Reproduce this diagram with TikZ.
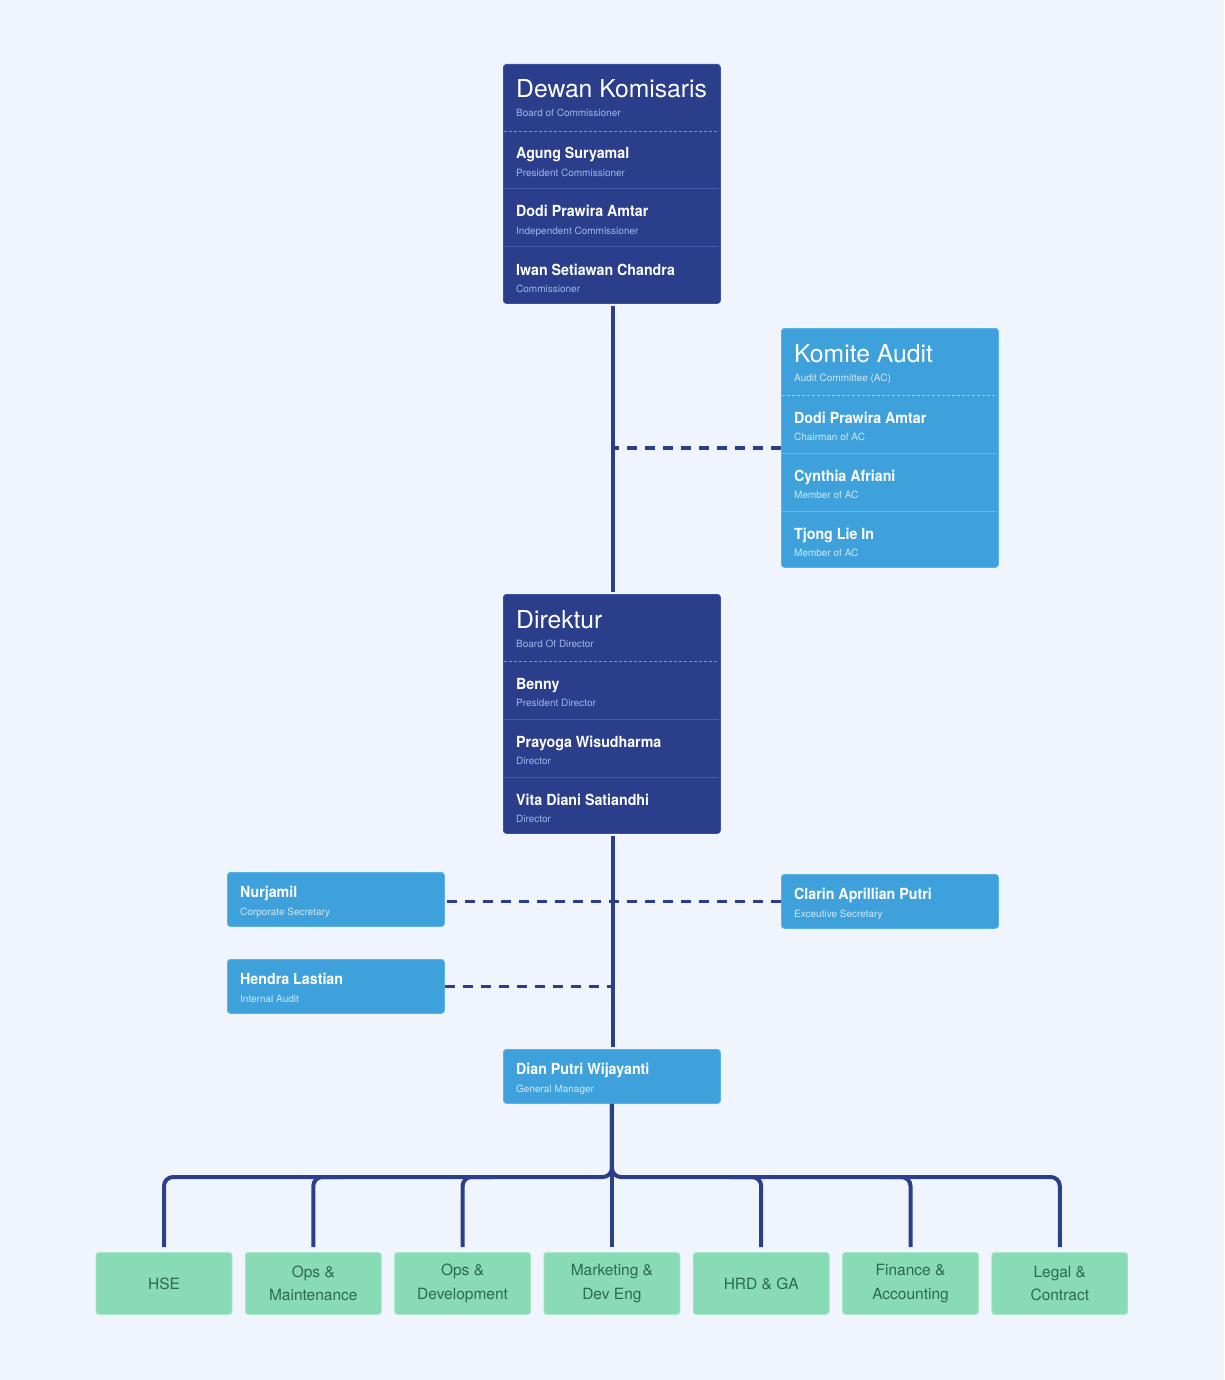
\documentclass[tikz,border=0pt]{standalone}
\usepackage{fontspec}
\setmainfont{TeX Gyre Heros}
\newfontfamily\namefont{TeX Gyre Heros}[FakeStretch=0.93]
\usetikzlibrary{calc}

\definecolor{bg}{HTML}{F0F5FD}
\definecolor{navy}{HTML}{2B3E8B}
\definecolor{navyedge}{HTML}{3A50A0}
\definecolor{sky}{HTML}{3EA1DB}
\definecolor{skyedge}{HTML}{5DB2E5}
\definecolor{mint}{HTML}{89DBB6}
\definecolor{mintedge}{HTML}{ABE8CB}
\definecolor{minttext}{HTML}{2B6A4E}
\definecolor{divdark}{HTML}{4659AA}
\definecolor{hdrdark}{HTML}{7E91D3}
\definecolor{divsky}{HTML}{65B7E6}
\definecolor{hdrsky}{HTML}{97CEEF}
\definecolor{roledark}{HTML}{A3B5EA}
\definecolor{rolesky}{HTML}{CFE7F8}
\colorlet{rolec}{roledark}

\tikzset{
  darkbox/.style={draw=navyedge, line width=0.8pt, fill=navy, rounded corners=3pt, minimum width=217pt, anchor=north west, inner sep=0pt},
  skybox/.style={draw=skyedge, line width=0.8pt, fill=sky, rounded corners=3pt, minimum width=217pt, anchor=north west, inner sep=0pt},
  deptbox/.style={draw=mintedge, line width=0.8pt, fill=mint, rounded corners=3pt, minimum width=136pt, minimum height=62pt, anchor=north, inner sep=0pt, align=center, text=minttext, font=\fontsize{15.5}{23.5}\selectfont},
  titletxt/.style={inner sep=0pt, anchor=base west, text=white, font=\fontsize{24.7}{28}\selectfont},
  nametxt/.style={inner sep=0pt, anchor=base west, text=white, font=\namefont\bfseries\fontsize{15.3}{18}\selectfont},
  roletxt/.style={inner sep=0pt, anchor=base west, text=rolec, font=\fontsize{10}{12}\selectfont},
  conn/.style={draw=navy, line width=4pt},
  dashconn/.style={draw=navy, line width=3.5pt, dash pattern=on 10pt off 8pt},
}

\newcommand{\hdr}[5]{%
  \node[titletxt] (#1t) at ({#2+13},{#3+34}) {#4};
  \node[roletxt] (#1s) at ({#2+13},{#3+53}) {#5};}
\newcommand{\prow}[5]{%
  \node[nametxt] (#1n) at ({#2+13},{#3+28}) {#4};
  \node[roletxt] (#1r) at ({#2+13},{#3+45.5}) {#5};}
\newcommand{\single}[5]{%
  \node[nametxt] (#1n) at ({#2+13},{#3+25}) {#4};
  \node[roletxt] (#1r) at ({#2+13},{#3+43}) {#5};}

\begin{document}
\begin{tikzpicture}[x=1pt,y=-1pt]
\fill[bg] (0,0) rectangle (1224,1380);
\useasboundingbox (0,0) rectangle (1224,1380);

% ---------- Dewan Komisaris ----------
\node[darkbox, minimum height=239pt] (dewan) at (503,64) {};
\draw[hdrdark, line width=0.7pt, dash pattern=on 3pt off 2pt] (504,131) -- (719,131);
\draw[divdark, line width=1pt] (504,189) -- (719,189);
\draw[divdark, line width=1pt] (504,247) -- (719,247);
\colorlet{rolec}{roledark}
\hdr{dk}{503}{64}{Dewan Komisaris}{Board of Commissioner}
\prow{dk1}{503}{131}{Agung Suryamal}{President Commissioner}
\prow{dk2}{503}{189}{Dodi Prawira Amtar}{Independent Commissioner}
\prow{dk3}{503}{247}{Iwan Setiawan Chandra}{Commissioner}

% ---------- Komite Audit ----------
\node[skybox, minimum height=239pt] (komite) at (781,328) {};
\draw[hdrsky, line width=0.7pt, dash pattern=on 3pt off 2pt] (782,395) -- (997,395);
\draw[divsky, line width=1pt] (782,453) -- (997,453);
\draw[divsky, line width=1pt] (782,511) -- (997,511);
\colorlet{rolec}{rolesky}
\hdr{ka}{781}{328}{Komite Audit}{Audit Committee (AC)}
\prow{ka1}{781}{395}{Dodi Prawira Amtar}{Chairman of AC}
\prow{ka2}{781}{453}{Cynthia Afriani}{Member of AC}
\prow{ka3}{781}{511}{Tjong Lie In}{Member of AC}

% ---------- Direktur ----------
\node[darkbox, minimum height=239pt] (direktur) at (503,594) {};
\draw[hdrdark, line width=0.7pt, dash pattern=on 3pt off 2pt] (504,661) -- (719,661);
\draw[divdark, line width=1pt] (504,719) -- (719,719);
\draw[divdark, line width=1pt] (504,777) -- (719,777);
\colorlet{rolec}{roledark}
\hdr{dr}{503}{594}{Direktur}{Board Of Director}
\prow{dr1}{503}{661}{Benny}{President Director}
\prow{dr2}{503}{719}{Prayoga Wisudharma}{Director}
\prow{dr3}{503}{777}{Vita Diani Satiandhi}{Director}

% ---------- single boxes ----------
\colorlet{rolec}{rolesky}
\node[skybox, minimum height=54pt] (nurjamil) at (227,872) {};
\single{nj}{227}{872}{Nurjamil}{Corporate Secretary}
\node[skybox, minimum height=54pt] (clarin) at (781,874) {};
\single{cl}{781}{874}{Clarin Aprillian Putri}{Exceutive Secretary}
\node[skybox, minimum height=54pt] (hendra) at (227,959) {};
\single{hl}{227}{959}{Hendra Lastian}{Internal Audit}
\node[skybox, minimum height=54pt] (gm) at (503,1049) {};
\single{gmn}{503}{1049}{Dian Putri Wijayanti}{General Manager}

% ---------- departments ----------
\node[deptbox] (hse)  at (164.0,1252) {HSE};
\node[deptbox] (opsm) at (313.3,1252) {Ops \&\\Maintenance};
\node[deptbox] (opsd) at (462.6,1252) {Ops \&\\Development};
\node[deptbox] (mkt)  at (611.9,1252) {Marketing \&\\Dev Eng};
\node[deptbox] (hrd)  at (761.2,1252) {HRD \& GA};
\node[deptbox] (fin)  at (910.5,1252) {Finance \&\\Accounting};
\node[deptbox] (legal) at (1059.8,1252) {Legal \&\\Contract};

% ---------- connectors ----------
\draw[conn] ([xshift=1.5pt,yshift=-2pt]dewan.south) -- ([xshift=1.5pt,yshift=2pt]direktur.north);
\draw[conn] ([xshift=1.5pt,yshift=-2pt]direktur.south) -- ([xshift=1.5pt,yshift=2pt]gm.north);
\draw[dashconn] (komite.west) -- ([xshift=1.5pt]komite.west -| dewan.south);
\draw[dashconn] (clarin.west) -- (clarin.west -| nurjamil.east);
\draw[dashconn] (hendra.east) -- ([xshift=1.5pt]hendra.east -| direktur.south);

\coordinate (bar) at (0,1177);
\draw[conn, rounded corners=9pt] (gm.south) -- (gm.south |- bar) -- (hse.north |- bar) -- ([yshift=5pt]hse.north);
\draw[conn, rounded corners=9pt] (gm.south) -- (gm.south |- bar) -- (legal.north |- bar) -- ([yshift=5pt]legal.north);
\draw[conn] (gm.south) -- ([yshift=5pt]mkt.north);
\draw[conn, rounded corners=9pt] ([yshift=5pt]opsm.north) -- (opsm.north |- bar) -- ($(opsm.north |- bar)+(30,0)$);
\draw[conn, rounded corners=9pt] ([yshift=5pt]opsd.north) -- (opsd.north |- bar) -- ($(opsd.north |- bar)+(30,0)$);
\draw[conn, rounded corners=9pt] ([yshift=5pt]hrd.north) -- (hrd.north |- bar) -- ($(hrd.north |- bar)+(-30,0)$);
\draw[conn, rounded corners=9pt] ([yshift=5pt]fin.north) -- (fin.north |- bar) -- ($(fin.north |- bar)+(-30,0)$);
\end{tikzpicture}
\end{document}
